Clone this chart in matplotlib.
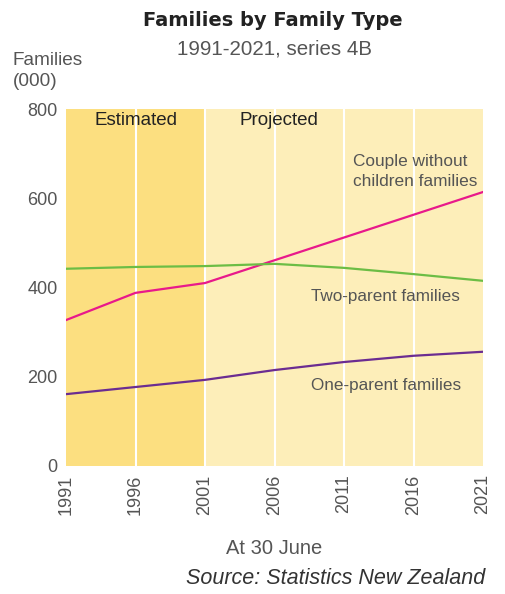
import numpy as np
import matplotlib.pyplot as plt

years = [1991, 1996, 2001, 2006, 2011, 2016, 2021]
couple_no_children = [327, 388, 410, 461, 512, 563, 614]
two_parent = [442, 446, 448, 453, 444, 430, 415]
one_parent = [161, 177, 193, 215, 233, 247, 256]

plt.rcParams['font.family'] = ['Liberation Sans', 'DejaVu Sans']
grey = '#555555'

f = plt.figure(figsize=(5.06, 5.94), dpi=100)
p = f.add_axes([66/506, 1-466/594, (483-66)/506, (466-109)/594])

# background bands
p.axvspan(1991, 2001, color='#fcdf80', lw=0, zorder=0)
p.axvspan(2001, 2021, color='#fdeeb9', lw=0, zorder=0)
for x in years[1:-1]:
    p.axvline(x, color='white', lw=1.5, zorder=1)

p.plot(years, couple_no_children, color='#e8198b', lw=1.6, zorder=3)
p.plot(years, two_parent, color='#6cbd45', lw=1.6, zorder=3)
p.plot(years, one_parent, color='#6b2c91', lw=1.6, zorder=3)

p.set_xlim(1991, 2021)
p.set_ylim(0, 800)
p.set_xticks(years)
p.set_xticklabels([str(y) for y in years], rotation=90)
p.set_yticks([0, 200, 400, 600, 800])
p.tick_params(length=0, labelsize=13, colors=grey, pad=6)
for s in p.spines.values():
    s.set_visible(False)

p.text(1996, 774, 'Estimated', ha='center', va='center', fontsize=13.5, color='#222222')
p.text(2006.3, 774, 'Projected', ha='center', va='center', fontsize=13.5, color='#222222')
p.text(2011.65, 660, 'Couple without\nchildren families', ha='left', va='center',
       fontsize=12.4, color=grey, linespacing=1.4)
p.text(2014, 380, 'Two-parent families', ha='center', va='center', fontsize=12.3, color=grey)
p.text(2014, 180, 'One-parent families', ha='center', va='center', fontsize=12.3, color=grey)

f.text(273/506, 1-20/594, 'Families by Family Type', ha='center', va='center',
       fontsize=14, fontweight='heavy', family='DejaVu Sans', color='#222222')
f.text(275/506, 1-49/594, '1991-2021, series 4B', ha='center', va='center',
       fontsize=14.8, color=grey)
f.text(13/506, 1-71/594, 'Families\n(000)', ha='left', va='center',
       fontsize=13.7, color=grey, linespacing=1.25)
f.text(274/506, 1-548/594, 'At 30 June', ha='center', va='center', fontsize=14.5, color=grey)
f.text(485/506, 1-579/594, 'Source: Statistics New Zealand', ha='right', va='center',
       fontsize=15.5, style='italic', color='#333333')

plt.savefig('out.png', dpi=100)
